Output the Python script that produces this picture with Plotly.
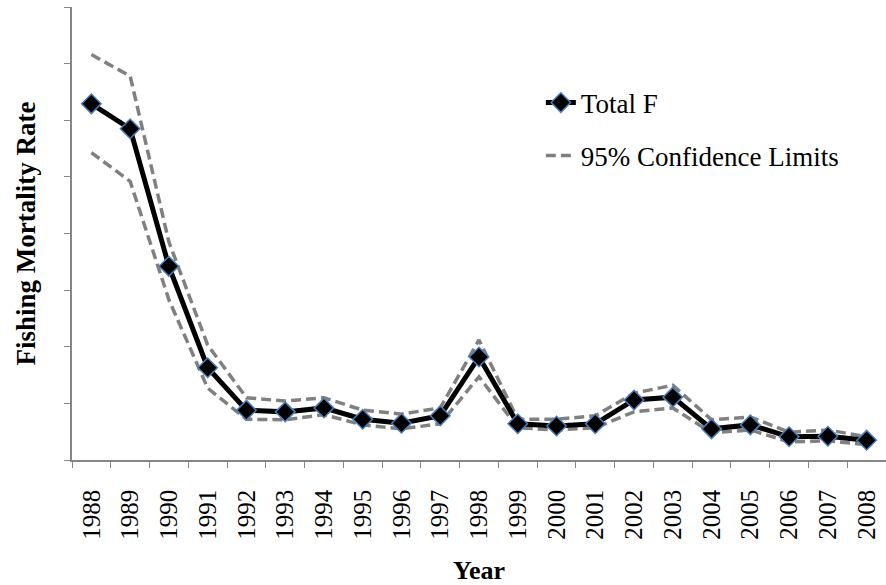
import plotly.graph_objects as go

years = [str(y) for y in range(1988, 2009)]
total_f = [6.29, 5.85, 3.42, 1.63, 0.88, 0.85, 0.92, 0.72, 0.65, 0.78, 1.82,
           0.64, 0.60, 0.64, 1.06, 1.11, 0.55, 0.62, 0.41, 0.42, 0.35]
upper_ci = [7.16, 6.78, 3.85, 2.03, 1.10, 1.04, 1.10, 0.88, 0.81, 0.92, 2.12,
            0.72, 0.72, 0.78, 1.18, 1.32, 0.71, 0.76, 0.49, 0.53, 0.41]
lower_ci = [5.43, 4.92, 2.83, 1.27, 0.72, 0.71, 0.80, 0.62, 0.55, 0.64, 1.47,
            0.57, 0.53, 0.57, 0.85, 0.92, 0.48, 0.53, 0.32, 0.34, 0.27]

FONT = "Liberation Serif"
GRAY = "#808080"

fig = go.Figure()
fig.add_trace(go.Scatter(
    x=years, y=upper_ci, mode="lines", name="95% Confidence Limits",
    line=dict(color=GRAY, width=3.5, dash="10px,5px"), legend="legend2", showlegend=True))
fig.add_trace(go.Scatter(
    x=years, y=lower_ci, mode="lines", name="95% Confidence Limits",
    line=dict(color=GRAY, width=3.5, dash="10px,5px"), showlegend=False))
fig.add_trace(go.Scatter(
    x=years, y=total_f, mode="lines+markers", name="Total F",
    line=dict(color="black", width=5),
    marker=dict(symbol="diamond", size=15, color="black",
                line=dict(color="#4a7ebb", width=1.5)),
    legend="legend"))

fig.update_layout(
    width=886, height=585,
    margin=dict(l=72, r=0, t=7, b=125),
    paper_bgcolor="white", plot_bgcolor="white",
    font=dict(family=FONT, size=25, color="black"),
    legend=dict(x=0.576, y=0.788, xanchor="left", yanchor="middle",
                bgcolor="rgba(0,0,0,0)", font=dict(size=27, family=FONT)),
    legend2=dict(x=0.576, y=0.671, xanchor="left", yanchor="middle",
                 bgcolor="rgba(0,0,0,0)", font=dict(size=27, family=FONT)),
    xaxis=dict(
        type="category", range=[-0.5, 20.5], automargin=False,
        showline=True, linecolor="#868686", linewidth=1.5,
        ticks="outside", tickson="boundaries", ticklen=6, tickcolor="#868686",
        tickangle=-90, tickfont=dict(size=25, family=FONT), ticklabelstandoff=18,
        showgrid=False, zeroline=False,
        title=dict(text="<b>Year</b>", font=dict(size=26, family=FONT), standoff=22),
    ),
    yaxis=dict(
        range=[0, 8], dtick=1, showticklabels=False, automargin=False,
        showline=True, linecolor="#868686", linewidth=1.5,
        ticks="outside", ticklen=6, tickcolor="#868686",
        showgrid=False, zeroline=False,
        title=dict(text="<b>Fishing Mortality Rate</b>", font=dict(size=27, family=FONT), standoff=21),
    ),
)

fig.write_html("out.html",
               config={"displayModeBar": False},
               post_script="document.body.style.margin='0px';document.body.style.overflow='hidden';")
